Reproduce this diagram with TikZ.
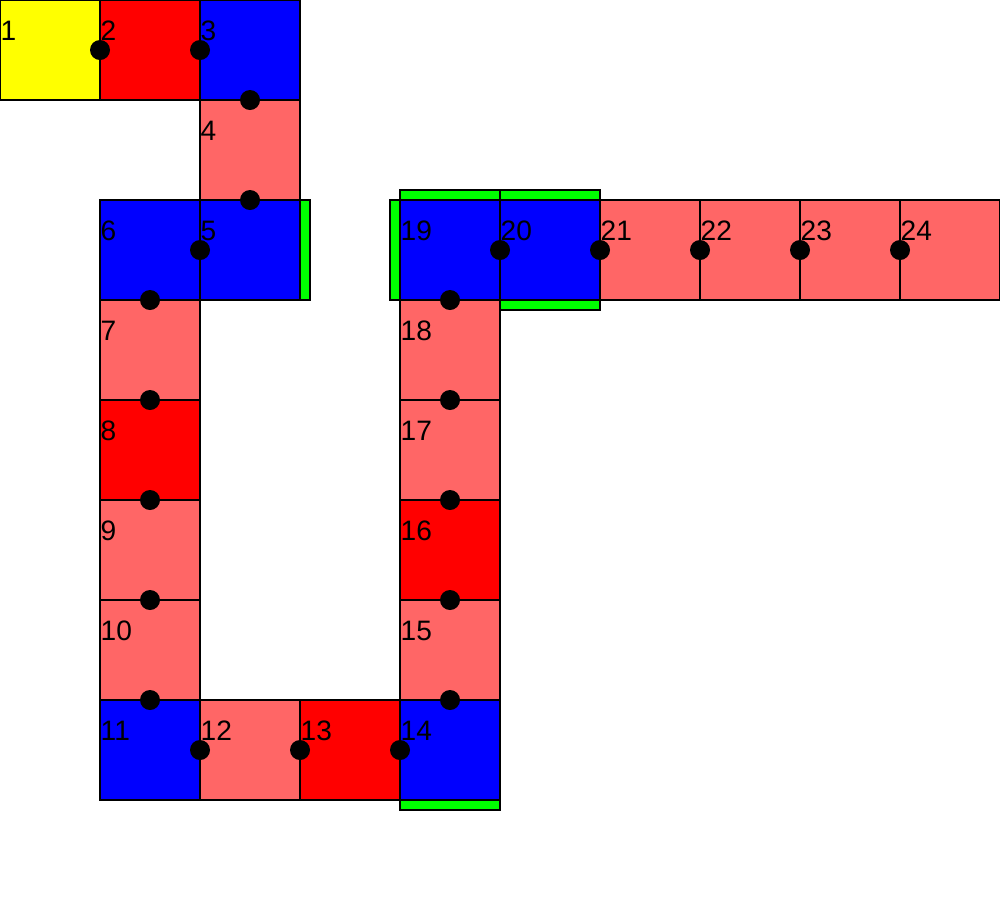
\documentclass[tikz,border=0pt]{standalone}
\usepackage{fontspec}
\setmainfont{Liberation Sans}
\usepackage{xcolor}
\usetikzlibrary{positioning,calc}

\definecolor{lightred}{HTML}{FF6666}
\definecolor{pure}{HTML}{FF0000}
\definecolor{blu}{HTML}{0000FF}
\definecolor{yel}{HTML}{FFFF00}
\definecolor{grn}{HTML}{00FF00}

\begin{document}
\begin{tikzpicture}[node distance=0pt,
    cell/.style={rectangle, draw, line width=0.35pt, minimum size=1cm, inner sep=0pt, outer sep=0pt},
    num/.style={anchor=base west, inner sep=0pt, font=\fontsize{8}{9.6}\selectfont},
    bar/.style={draw, fill=grn, line width=0.35pt},
    dot/.style={fill=black}]
    
    \useasboundingbox (0,0) rectangle (10,-9);
    
    % the chain of cells
    \node[cell, fill=yel] (c1) at (0.5,-0.5) {};
    \foreach \i/\p/\dir/\col in {2/1/right/pure, 3/2/right/blu, 4/3/below/lightred,
        5/4/below/blu, 6/5/left/blu, 7/6/below/lightred, 8/7/below/pure,
        9/8/below/lightred, 10/9/below/lightred, 11/10/below/blu,
        12/11/right/lightred, 13/12/right/pure, 14/13/right/blu,
        15/14/above/lightred, 16/15/above/pure, 17/16/above/lightred,
        18/17/above/lightred, 19/18/above/blu, 20/19/right/blu,
        21/20/right/lightred, 22/21/right/lightred, 23/22/right/lightred,
        24/23/right/lightred}
        \node[cell, fill=\col, \dir=of c\p] (c\i) {};
    
    % green walls
    \draw[bar] (c5.north east) rectangle ++(0.1,-1);
    \draw[bar] (c19.north west) rectangle ++(-0.1,-1);
    \draw[bar] (c19.north west) rectangle ++(1,0.1);
    \draw[bar] (c20.north west) rectangle ++(1,0.1);
    \draw[bar] (c20.south west) rectangle ++(1,-0.1);
    \draw[bar] (c14.south west) rectangle ++(1,-0.1);
    
    % numbers
    \foreach \i in {1,...,24}
        \node[num] (n\i) at ([yshift=-0.4cm]c\i.north west) {\i};
    
    % joints
    \foreach \i [evaluate=\i as \j using int(\i+1)] in {1,...,23}
        \fill[dot] ($(c\i)!0.5!(c\j)$) circle (0.1);
\end{tikzpicture}
\end{document}
